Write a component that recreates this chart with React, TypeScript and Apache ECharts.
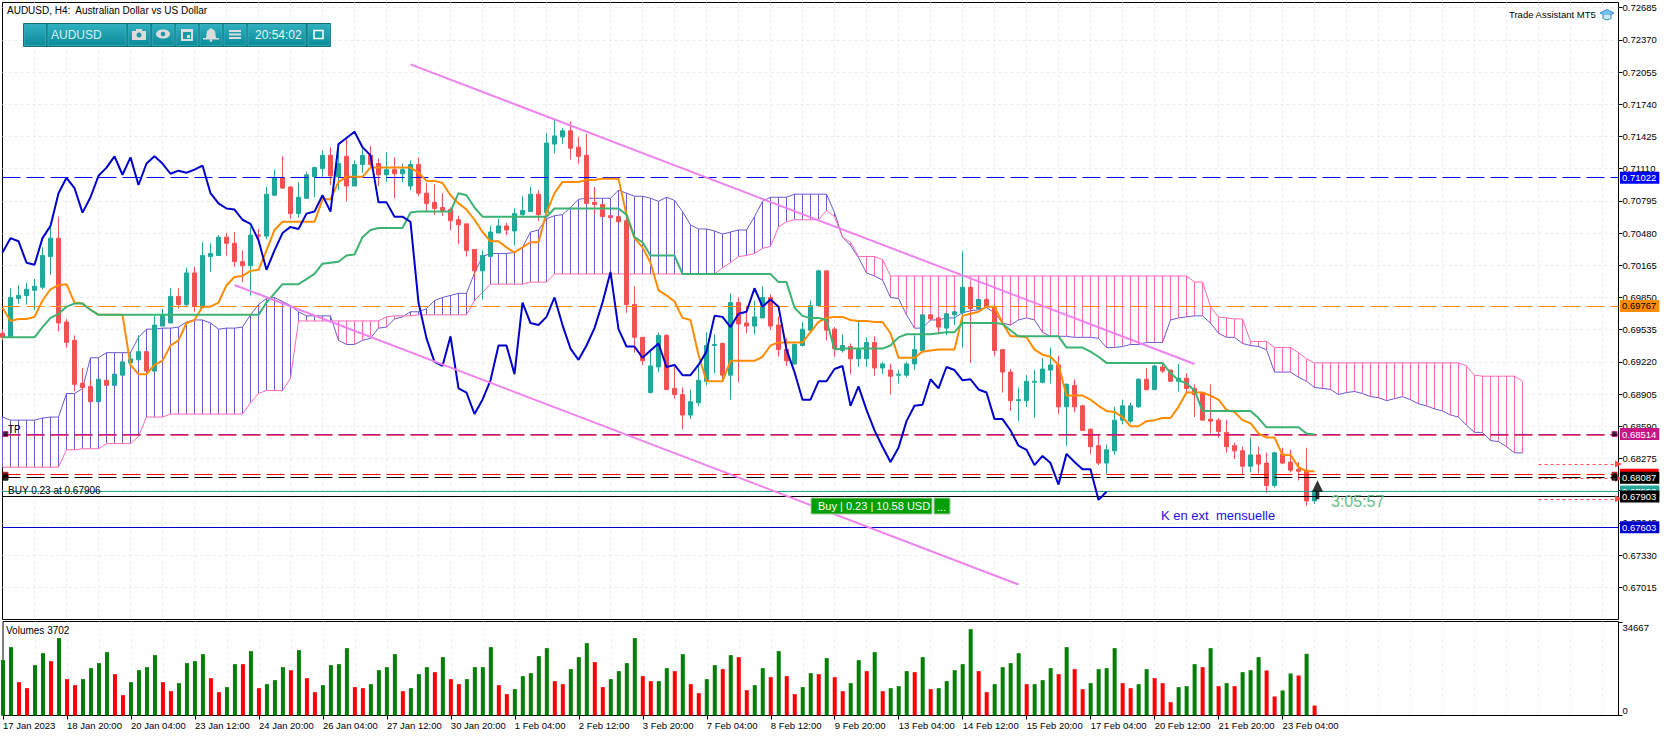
import React, { useEffect, useRef } from "react";
import * as echarts from "echarts";

const FONT = "Liberation Sans";
const TEAL = "#26a69a";
const RED = "#ef5350";

const tickLabels = ["17 Jan 2023","18 Jan 20:00","20 Jan 04:00","23 Jan 12:00","24 Jan 20:00","26 Jan 04:00","27 Jan 12:00","30 Jan 20:00","1 Feb 04:00","2 Feb 12:00","3 Feb 20:00","7 Feb 04:00","8 Feb 12:00","9 Feb 20:00","13 Feb 04:00","14 Feb 12:00","15 Feb 20:00","17 Feb 04:00","20 Feb 12:00","21 Feb 20:00","23 Feb 04:00"];
const priceTicks = [0.72685,0.7237,0.72055,0.7174,0.71425,0.7111,0.70795,0.7048,0.70165,0.6985,0.69535,0.6922,0.68905,0.6859,0.68275,0.6796,0.67645,0.6733,0.67015];
const volumeTicks = [0, 34667];

const openPrices = [
.6950,.6946,.6984,.6987,.6992,.6995,.7025,.7043,.6961,.6943,
.6901,.6898,.6883,.6904,.6899,.6909,.6921,.6924,.6932,.6913,
.6957,.6960,.6986,.6978,.7009,.6975,.7025,.7026,.7044,.7038,
.7020,.7016,.7046,.7045,.7085,.7102,.7093,.7067,.7082,.7103,
.7111,.7124,.7103,.7123,.7094,.7115,.7124,.7116,.7105,.7110,
.7106,.7094,.7115,.7087,.7078,.7073,.7071,.7061,.7057,.7032,
.7011,.7025,.7048,.7055,.7050,.7066,.7069,.7086,.7068,.7135,
.7142,.7148,.7132,.7124,.7078,.7076,.7065,.7064,.7060,.6978,
.6946,.6892,.6917,.6948,.6896,.6890,.6870,.6882,.6903,.6938,
.6940,.6909,.6980,.6960,.6957,.6965,.6985,.6958,.6934,.6920,
.6938,.6953,.6977,.7011,.6954,.6933,.6937,.6925,.6925,.6941,
.6916,.6914,.6909,.6909,.6920,.6933,.6968,.6965,.6955,.6968,
.6970,.6995,.6974,.6983,.6975,.6934,.6912,.6884,.6884,.6902,
.6902,.6914,.6919,.6878,.6899,.6879,.6856,.6840,.6823,.6835,
.6865,.6864,.6878,.6905,.6895,.6917,.6914,.6903,.6906,.6896,
.6892,.6866,.6865,.6853,.6840,.6835,.6820,.6831,.6823,.6801,
.6832,.6824,.6817,.6816,.6786];
const closePrices = [
.6946,.6985,.6987,.6993,.6996,.7026,.7043,.6960,.6941,.6900,
.6897,.6883,.6905,.6899,.6910,.6922,.6925,.6932,.6913,.6958,
.6968,.6986,.6978,.7009,.6976,.7026,.7028,.7044,.7038,.7020,
.7016,.7046,.7045,.7086,.7102,.7092,.7067,.7083,.7105,.7112,
.7124,.7104,.7116,.7094,.7115,.7124,.7115,.7105,.7110,.7106,
.7110,.7115,.7087,.7077,.7072,.7069,.7060,.7056,.7031,.7011,
.7026,.7049,.7055,.7051,.7067,.7070,.7086,.7066,.7136,.7143,
.7148,.7131,.7123,.7077,.7076,.7064,.7063,.7059,.6978,.6946,
.6923,.6918,.6948,.6895,.6890,.6870,.6883,.6904,.6938,.6939,
.6909,.6980,.6959,.6957,.6966,.6985,.6957,.6934,.6923,.6939,
.6954,.6977,.7011,.6953,.6935,.6938,.6925,.6934,.6941,.6916,
.6920,.6908,.6910,.6920,.6934,.6968,.6964,.6956,.6969,.6971,
.6995,.6974,.6983,.6976,.6933,.6912,.6884,.6885,.6903,.6903,
.6915,.6919,.6878,.6900,.6878,.6855,.6839,.6823,.6836,.6865,
.6879,.6879,.6905,.6895,.6918,.6913,.6903,.6906,.6896,.6890,
.6865,.6864,.6854,.6839,.6835,.6820,.6831,.6822,.6801,.6833,
.6823,.6816,.6815,.6786,.6796];
const lowPrices = [
.6943,.6946,.6979,.6978,.6973,.6993,.7007,.6952,.6936,.6893,
.6893,.6883,.6883,.6899,.6899,.6909,.6919,.6924,.6913,.6913,
.6957,.6960,.6974,.6976,.6971,.6975,.7010,.7026,.7026,.7015,
.7000,.6987,.7041,.7042,.7084,.7091,.7062,.7063,.7082,.7083,
.7103,.7095,.7090,.7079,.7094,.7107,.7113,.7094,.7098,.7082,
.7098,.7090,.7084,.7069,.7066,.7065,.7051,.7037,.7025,.7004,
.6983,.7025,.7048,.7046,.7036,.7065,.7069,.7060,.7066,.7126,
.7135,.7120,.7116,.7077,.7066,.7064,.7063,.7059,.6970,.6931,
.6919,.6891,.6912,.6895,.6886,.6856,.6866,.6879,.6899,.6911,
.6904,.6885,.6902,.6950,.6949,.6965,.6953,.6927,.6918,.6919,
.6937,.6952,.6976,.6943,.6927,.6931,.6910,.6917,.6917,.6908,
.6910,.6890,.6901,.6907,.6914,.6932,.6963,.6950,.6948,.6958,
.6936,.6921,.6973,.6975,.6928,.6892,.6874,.6864,.6878,.6867,
.6901,.6901,.6871,.6840,.6873,.6855,.6832,.6821,.6812,.6831,
.6861,.6862,.6877,.6894,.6894,.6911,.6903,.6893,.6892,.6868,
.6865,.6852,.6848,.6833,.6827,.6811,.6814,.6813,.6794,.6799,
.6822,.6814,.6806,.6781,.6783];
const highPrices = [
.6953,.6994,.6997,.6999,.7003,.7034,.7056,.7064,.6964,.6948,
.6916,.6904,.6905,.6904,.6910,.6922,.6930,.6948,.6932,.6967,
.6974,.6994,.6994,.7014,.7015,.7039,.7038,.7046,.7048,.7049,
.7031,.7054,.7052,.7093,.7110,.7123,.7094,.7098,.7108,.7113,
.7129,.7132,.7131,.7141,.7119,.7131,.7133,.7121,.7127,.7122,
.7116,.7119,.7122,.7097,.7096,.7087,.7073,.7065,.7057,.7032,
.7031,.7055,.7062,.7058,.7072,.7084,.7093,.7090,.7146,.7159,
.7151,.7157,.7142,.7145,.7093,.7076,.7065,.7064,.7064,.6996,
.6946,.6932,.6951,.6949,.6917,.6897,.6895,.6918,.6951,.6949,
.6941,.6989,.6985,.6977,.6982,.6996,.6988,.6966,.6945,.6940,
.6961,.6982,.7012,.7011,.6956,.6949,.6940,.6961,.6946,.6947,
.6922,.6920,.6914,.6922,.6948,.6968,.6968,.6965,.6970,.6972,
.7030,.6995,.6984,.6985,.6978,.6934,.6915,.6897,.6909,.6914,
.6926,.6936,.6928,.6901,.6905,.6880,.6857,.6851,.6841,.6878,
.6885,.6882,.6906,.6916,.6919,.6921,.6914,.6920,.6911,.6900,
.6892,.6900,.6867,.6865,.6843,.6839,.6848,.6839,.6833,.6834,
.6838,.6836,.6824,.6838,.6796];

const tenkan = [
.6975,.6962,.6964,.6964,.6966,.6982,.6993,.6997,.6998,.6980,
.6979,.6973,.6968,.6968,.6968,.6968,.6919,.6910,.6910,.6919,
.6923,.6938,.6943,.6960,.6963,.6976,.6976,.6980,.6997,.7005,
.7006,.7011,.7012,.7031,.7051,.7059,.7059,.7059,.7059,.7059,
.7081,.7081,.7098,.7103,.7103,.7103,.7112,.7112,.7112,.7112,
.7112,.7112,.7107,.7099,.7099,.7097,.7085,.7077,.7071,.7061,
.7049,.7040,.7040,.7034,.7029,.7034,.7039,.7039,.7068,.7087,
.7098,.7098,.7098,.7100,.7100,.7101,.7101,.7101,.7066,.7043,
.7034,.7019,.6992,.6987,.6981,.6965,.6963,.6929,.6903,.6903,
.6903,.6923,.6923,.6923,.6923,.6927,.6938,.6941,.6941,.6941,
.6941,.6951,.6961,.6965,.6966,.6966,.6963,.6962,.6962,.6961,
.6961,.6950,.6926,.6926,.6926,.6932,.6933,.6934,.6934,.6934,
.6967,.6969,.6971,.6976,.6976,.6960,.6947,.6947,.6946,.6934,
.6929,.6927,.6919,.6889,.6889,.6889,.6885,.6879,.6874,.6873,
.6868,.6859,.6859,.6864,.6865,.6867,.6867,.6878,.6892,.6892,
.6892,.6889,.6885,.6875,.6873,.6865,.6862,.6852,.6848,.6848,
.6831,.6831,.6819,.6815,.6815];
const kijun = [
.6946,.6946,.6946,.6946,.6946,.6956,.6965,.6969,.6976,.6979,
.6979,.6973,.6968,.6968,.6968,.6968,.6968,.6968,.6968,.6968,
.6968,.6968,.6968,.6968,.6968,.6968,.6968,.6968,.6968,.6968,
.6968,.6968,.6968,.6980,.6989,.6998,.6998,.6998,.7003,.7008,
.7018,.7019,.7020,.7026,.7027,.7044,.7051,.7053,.7053,.7053,
.7053,.7068,.7069,.7069,.7069,.7069,.7069,.7087,.7085,.7073,
.7064,.7064,.7064,.7064,.7064,.7064,.7064,.7064,.7064,.7072,
.7072,.7072,.7072,.7072,.7072,.7072,.7072,.7072,.7066,.7044,
.7039,.7026,.7026,.7026,.7026,.7008,.7008,.7008,.7008,.7008,
.7008,.7008,.7008,.7008,.7008,.7008,.7008,.7000,.7000,.6975,
.6967,.6965,.6965,.6963,.6934,.6935,.6935,.6935,.6935,.6935,
.6935,.6938,.6946,.6949,.6949,.6949,.6949,.6950,.6951,.6951,
.6960,.6960,.6960,.6960,.6960,.6959,.6953,.6947,.6947,.6947,
.6947,.6947,.6947,.6936,.6936,.6936,.6932,.6927,.6921,.6921,
.6921,.6921,.6921,.6921,.6921,.6921,.6911,.6904,.6901,.6894,
.6874,.6874,.6874,.6874,.6874,.6874,.6874,.6867,.6858,.6858,
.6858,.6858,.6858,.6852,.6851];
const chikou = [
.7029,.7043,.7040,.7019,.7017,.7043,.7055,.7087,.7102,.7092,
.7068,.7083,.7104,.7112,.7123,.7105,.7122,.7095,.7116,.7123,
.7116,.7106,.7109,.7107,.7110,.7114,.7087,.7077,.7072,.7071,
.7061,.7057,.7041,.7012,.7031,.7048,.7054,.7052,.7067,.7069,
.7085,.7069,.7135,.7141,.7147,.7132,.7124,.7078,.7078,.7064,
.7064,.7059,.6980,.6945,.6922,.6918,.6947,.6896,.6892,.6871,
.6885,.6904,.6938,.6938,.6910,.6980,.6960,.6958,.6966,.6985,
.6958,.6935,.6924,.6938,.6955,.6980,.7010,.6954,.6937,.6937,
.6926,.6933,.6940,.6917,.6919,.6909,.6909,.6919,.6932,.6967,
.6966,.6956,.6969,.6971,.6994,.6976,.6983,.6976,.6934,.6912,
.6885,.6885,.6903,.6903,.6915,.6918,.6879,.6898,.6875,.6855,
.6839,.6824,.6838,.6864,.6879,.6880,.6905,.6896,.6917,.6914,
.6904,.6905,.6895,.6892,.6866,.6866,.6855,.6840,.6836,.6821,
.6830,.6823,.6802,.6832,.6824,.6817,.6817,.6787,.6795];
const senkouA = [
.6868,.6865,.6865,.6865,.6865,.6867,.6868,.6868,.6891,.6891,
.6896,.6926,.6926,.6931,.6931,.6931,.6931,.6946,.6954,.6954,
.6955,.6955,.6956,.6961,.6963,.6963,.6960,.6954,.6955,.6955,
.6956,.6968,.6978,.6984,.6985,.6981,.6977,.6971,.6967,.6967,
.6967,.6967,.6943,.6939,.6939,.6943,.6945,.6955,.6956,.6964,
.6966,.6971,.6971,.6974,.6982,.6985,.6987,.6989,.6989,.7009,
.7025,.7028,.7028,.7028,.7029,.7034,.7049,.7051,.7062,.7065,
.7066,.7073,.7081,.7082,.7082,.7082,.7082,.7090,.7087,.7084,
.7084,.7082,.7079,.7083,.7080,.7069,.7056,.7052,.7052,.7050,
.7047,.7049,.7051,.7051,.7064,.7079,.7083,.7083,.7083,.7086,
.7086,.7086,.7086,.7086,.7068,.7044,.7036,.7024,.7009,.7006,
.7002,.6985,.6984,.6968,.6955,.6955,.6963,.6963,.6965,.6965,
.6970,.6972,.6973,.6975,.6970,.6960,.6958,.6963,.6965,.6963,
.6951,.6947,.6947,.6947,.6946,.6946,.6946,.6945,.6936,.6936,
.6937,.6939,.6939,.6941,.6941,.6941,.6963,.6965,.6966,.6967,
.6967,.6960,.6950,.6946,.6946,.6940,.6938,.6937,.6934,.6912,
.6912,.6912,.6907,.6903,.6897,.6896,.6895,.6890,.6892,.6893,
.6891,.6888,.6887,.6884,.6886,.6888,.6885,.6881,.6879,.6876,
.6874,.6870,.6868,.6860,.6853,.6853,.6845,.6844,.6839,.6833,
.6833];
const senkouB = [
.6819,.6819,.6819,.6819,.6819,.6819,.6819,.6819,.6836,.6836,
.6837,.6837,.6837,.6842,.6842,.6842,.6842,.6849,.6868,.6868,
.6868,.6871,.6871,.6871,.6871,.6871,.6871,.6871,.6871,.6871,
.6871,.6882,.6891,.6894,.6894,.6894,.6906,.6962,.6962,.6962,
.6962,.6962,.6962,.6962,.6962,.6962,.6962,.6962,.6966,.6967,
.6967,.6967,.6968,.6968,.6968,.6968,.6968,.6968,.6968,.6982,
.6990,.6998,.6998,.6998,.6998,.6998,.7000,.7000,.7000,.7008,
.7008,.7008,.7008,.7008,.7008,.7008,.7008,.7008,.7008,.7008,
.7008,.7008,.7008,.7008,.7008,.7008,.7008,.7008,.7008,.7008,
.7014,.7019,.7025,.7026,.7028,.7033,.7035,.7054,.7059,.7061,
.7061,.7061,.7061,.7070,.7064,.7044,.7039,.7025,.7025,.7025,
.7022,.7006,.7006,.7006,.7006,.7006,.7006,.7006,.7006,.7006,
.7006,.7006,.7006,.7006,.7006,.7006,.7006,.7006,.7006,.7006,
.7006,.7006,.7006,.7006,.7006,.7006,.7006,.7006,.7006,.7006,
.7006,.7006,.7006,.7006,.7006,.7006,.7006,.7006,.7006,.7000,
.7000,.6976,.6966,.6965,.6964,.6964,.6942,.6942,.6942,.6936,
.6936,.6936,.6931,.6925,.6921,.6921,.6921,.6921,.6921,.6921,
.6921,.6921,.6921,.6921,.6921,.6921,.6921,.6921,.6921,.6921,
.6921,.6921,.6921,.6918,.6909,.6908,.6908,.6908,.6908,.6908,
.6903];
const volumes = [
20630,25480,12430,10190,18770,23240,20260,28840,13550,11310,
13550,17650,19520,23620,15410,7580,12430,16900,18020,22500,
12430,9070,12060,19520,20260,22870,13920,8700,10570,19140,
19140,23990,10190,11680,13180,18020,16900,24360,13920,8700,
11310,18770,19140,25110,10570,10190,11680,16900,18020,22870,
9070,10190,15410,18020,16160,21750,13550,11680,13550,18020,
18020,25480,11310,7960,9820,14670,15790,22130,25110,12800,
11680,17280,21750,26970,19890,10570,13550,16530,19520,28840,
14670,12800,12800,17650,16530,22870,11680,8330,13550,18770,
17280,22500,21750,9450,11310,17650,14290,23990,14670,7960,
10570,15790,15410,21380,14290,9070,12060,20630,16530,23620,
9070,10190,10940,16530,16160,21750,9820,10190,12800,16900,
19140,32190,16530,8700,11680,18020,19520,23240,11680,11680,
13180,17650,15410,25480,17280,9820,12060,17280,17650,25110,
12060,10190,11680,17280,13920,12060,4970,10570,10940,19140,
18020,25110,10940,12060,10940,16160,16900,21750,16780,7090,
9320,15660,14920,23000,3702];
const redVolumeBars = [2,3,6,8,9,14,15,20,21,26,27,30,32,36,38,39,44,45,50,54,56,57,62,63,69,70,74,75,80,81,84,86,87,90,92,93,96,98,99,102,104,105,108,110,114,116,122,123,128,132,134,135,140,141,144,145,146,150,152,154,158,159,162,164];

const upperTrend = [[51, 0.7213], [149, 0.69199]];
const lowerTrend = [[29, 0.69972], [127, 0.67042]];
const priceLevels = [
  { value: 0.71022, color: "#0000ff", tag: "#0000ff", text: "#fff", dash: true },
  { value: 0.69767, color: "#ff8c00", tag: "#ff8c00", text: "#000", dash: true },
  { value: 0.68504, color: "#f5203f", tag: "#c71585", text: "#fff", dash: true, hide: true, width: 1.5 },
  { value: 0.68514, color: "#b0208a", tag: "#c71585", text: "#fff", dash: true },
  { value: 0.68116, color: "#ff0000", tag: "#ff0000", text: "#fff", dash: true },
  { value: 0.68087, color: "#000000", tag: "#000000", text: "#fff", dash: true },
  { value: 0.67953, color: TEAL, tag: TEAL, text: "#fff", dash: false },
  { value: 0.67903, color: "#000000", tag: "#000000", text: "#fff", dash: false },
  { value: 0.67603, color: "#0000cd", tag: "#0000cd", text: "#fff", dash: false },
];
const orderArrowPrices = [0.6822, 0.6808, 0.6788];
const edgeMarkers = [[0, 0.68514], [201, 0.68514], [0, 0.68116], [201, 0.68116], [0, 0.68087], [201, 0.68087]];
const markerBorders = ["#c71585", "#c71585", "#ff0000", "#ff0000", "#000", "#000"];

const SLOTS = 203;
const categories = Array.from({ length: SLOTS }, (_, i) => String(i));

const toolbarSlots = [[24.3, 21.3], [48, 78], [128.3, 21.7], [152.3, 21.7], [176, 22], [200, 22], [224, 22], [248, 57.3], [308, 22]];

function txt(x: number, y: number, text: string, size: number, fill: string, extra: any = {}) {
  return {
    type: "text", x, y, silent: true, z: 50,
    style: { text, fill, font: `${size}px "${FONT}"`, textVerticalAlign: "middle", ...extra },
  };
}

function buildGraphic() {
  const icon = "#dcdcdc";
  const btnFill = {
    type: "linear", x: 0, y: 0, x2: 0, y2: 1,
    colorStops: [{ offset: 0, color: "#2fb0c0" }, { offset: 1, color: "#0c8b99" }],
  };
  const els: any[] = [
    { type: "rect", silent: true, z: 40, shape: { x: 23.5, y: 23.5, width: 307, height: 23 }, style: { fill: "#0b7f8c", stroke: "#0a6f7b", lineWidth: 1 } },
  ];
  toolbarSlots.forEach(([x, w]) => {
    els.push({ type: "rect", silent: true, z: 41, shape: { x, y: 24.5, width: w, height: 21 }, style: { fill: btnFill, stroke: "#4fb9c5", lineWidth: 0.6 } });
  });
  const s = (t: string, shape: any, style: any = { fill: icon }) => ({ type: t, silent: true, z: 45, shape, style });
  els.push(
    s("rect", { x: 132, y: 31, width: 14, height: 9 }),
    s("rect", { x: 136, y: 29, width: 6, height: 2 }),
    s("circle", { cx: 139, cy: 35, r: 2.5 }, { fill: "#1a98a8" }),
    s("ellipse", { cx: 163, cy: 34, rx: 7, ry: 4.5 }),
    s("circle", { cx: 163, cy: 34, r: 2.3 }, { fill: "#1a98a8" }),
    s("rect", { x: 181, y: 29, width: 12, height: 12 }),
    s("rect", { x: 183, y: 32, width: 8, height: 7 }, { fill: "#1a98a8" }),
    s("rect", { x: 187, y: 35, width: 3, height: 3 }),
    s("polygon", { points: [[211, 28], [215, 31], [216, 38], [206, 38], [207, 31]] }),
    s("rect", { x: 203, y: 38, width: 16, height: 1.5 }),
    s("circle", { cx: 211, cy: 40.5, r: 1.3 }),
    s("rect", { x: 229, y: 30, width: 12, height: 2 }),
    s("rect", { x: 229, y: 33.5, width: 12, height: 2 }),
    s("rect", { x: 229, y: 37, width: 12, height: 2 }),
    s("rect", { x: 314, y: 30.5, width: 9, height: 8 }, { fill: "none", stroke: "#fff", lineWidth: 1.5 }),
    s("polygon", { points: [[1600, 13], [1607, 9.5], [1614, 13], [1607, 16.5]] }, { fill: "#7cc0ec", stroke: "#2f8fd0", lineWidth: 1 }),
    s("polyline", { points: [[1603, 15], [1603, 18.5], [1607, 20], [1611, 18.5], [1611, 15]] }, { fill: "#cfe8f8", stroke: "#2f8fd0", lineWidth: 1 }),
    s("rect", { x: 811, y: 498, width: 121, height: 16 }, { fill: "#00a000", stroke: "#a8c8a8", lineWidth: 1 }),
    s("rect", { x: 934, y: 498, width: 16, height: 16 }, { fill: "#00a000", stroke: "#a8c8a8", lineWidth: 1 }),
  );
  els.push(
    txt(7, 10, "AUDUSD, H4:  Australian Dollar vs US Dollar", 10, "#000"),
    txt(1509, 14, "Trade Assistant MT5", 9.5, "#000"),
    txt(6, 630, "Volumes 3702", 10, "#000"),
    txt(8, 490, "BUY 0.23 at 0.67906", 10, "#000"),
    txt(8, 429, "TP", 10, "#000"),
    txt(51, 34.5, "AUDUSD", 12, "#d8f0f2"),
    txt(255, 34.5, "20:54:02", 12, "#e8f6f8"),
    txt(818, 506, "Buy | 0.23 | 10.58 USD", 11, "#fff"),
    txt(937, 507, "...", 11, "#fff"),
    txt(1161, 515, "K en ext  mensuelle", 13, "#2a10e0"),
    txt(1331, 501, "3:05:57", 16, "#66c08a"),
  );
  return els;
}

export default function App() {
  const ref = useRef<HTMLDivElement>(null);
  useEffect(() => {
    document.body.style.margin = "0";
    const chart = echarts.init(ref.current!, null, { renderer: "svg" });
    const textStyle = { fontFamily: FONT, fontSize: 9.5, color: "#000" };
    const vGrid = { show: true, interval: (i: number) => i % 4 === 0 && i > 0, lineStyle: { color: "#ececec", type: [3, 3], width: 1 } };
    const ichimokuLine = (name: string, data: number[], color: string, width: number, z: number) => ({
      name, type: "line", data, symbol: "none", z, silent: true,
      lineStyle: { color, width }, xAxisIndex: 0, yAxisIndex: 0,
    });
    chart.setOption({
      animation: false,
      backgroundColor: "#fff",
      textStyle: { fontFamily: FONT },
      grid: [
        { left: 2.5, top: 2.5, width: 1616, height: 617, show: true, borderColor: "#000", borderWidth: 1, backgroundColor: "transparent" },
        { left: 2.5, top: 621.5, width: 1616, height: 94, show: true, borderColor: "#000", borderWidth: 1, backgroundColor: "transparent" },
      ],
      xAxis: [
        {
          type: "category", gridIndex: 0, data: categories, boundaryGap: false,
          axisLine: { show: false }, axisTick: { show: false }, axisLabel: { show: false },
          splitLine: vGrid,
        },
        {
          type: "category", gridIndex: 1, data: categories, boundaryGap: false,
          axisLine: { show: true, lineStyle: { color: "#000" } },
          axisTick: { show: true, length: 4, interval: (i: number) => i % 8 === 0 && i <= 160, lineStyle: { color: "#000" } },
          axisLabel: {
            ...textStyle, margin: 5, align: "left", hideOverlap: false,
            interval: (i: number) => i % 8 === 0 && i <= 160,
            formatter: (_: string, i: number) => tickLabels[i / 8] ?? "",
          },
          splitLine: vGrid,
        },
      ],
      yAxis: [
        {
          type: "value", gridIndex: 0, position: "right", min: 0.667, max: 0.72735, scale: true,
          axisLine: { show: false },
          axisTick: { show: true, length: 4, customValues: priceTicks, lineStyle: { color: "#000" } },
          axisLabel: { ...textStyle, margin: 4, customValues: priceTicks, formatter: (v: number) => v.toFixed(5) },
          splitLine: { show: true, lineStyle: { color: "#ececec", type: [3, 3], width: 1 } },
        },
        {
          type: "value", gridIndex: 1, position: "right", min: 0, max: 35040,
          axisLine: { show: false },
          axisTick: { show: true, length: 4, customValues: volumeTicks, lineStyle: { color: "#000" } },
          axisLabel: {
            ...textStyle, margin: 4, customValues: volumeTicks,
            verticalAlignMinLabel: "bottom", verticalAlignMaxLabel: "top",
            formatter: (v: number) => String(v),
          },
          splitLine: { show: false },
        },
      ],
      graphic: buildGraphic(),
      series: [
        {
          name: "Kumo", type: "custom", xAxisIndex: 0, yAxisIndex: 0, z: 1, silent: true, clip: true,
          data: senkouA.map((a, i) => [i, a, senkouB[i]]),
          encode: { x: 0, y: [1, 2] },
          renderItem: (_: any, api: any) => {
            const i = api.value(0), a = api.value(1), b = api.value(2);
            const p1 = api.coord([i, a]), p2 = api.coord([i, b]);
            return {
              type: "line",
              shape: { x1: p1[0], y1: p1[1], x2: p2[0], y2: p2[1] },
              style: { stroke: a >= b ? "#6a5acd" : "#ff69b4", lineWidth: 1 },
            };
          },
        },
        ichimokuLine("Senkou A", senkouA, "#6a5acd", 1, 2),
        ichimokuLine("Senkou B", senkouB, "#ff69b4", 1, 2),
        {
          name: "AUDUSD", type: "candlestick", xAxisIndex: 0, yAxisIndex: 0, z: 3, silent: true, barWidth: 5,
          data: openPrices.map((o, i) => [o, closePrices[i], lowPrices[i], highPrices[i]]),
          itemStyle: { color: TEAL, color0: RED, borderColor: TEAL, borderColor0: RED, borderWidth: 1 },
        },
        {
          name: "Levels", type: "line", xAxisIndex: 0, yAxisIndex: 0, z: 4, data: [], silent: true,
          markLine: {
            silent: true, symbol: "none", animation: false, precision: 5,
            data: priceLevels.map((l: any) => ({
              yAxis: l.value,
              lineStyle: { color: l.color, width: l.width ?? 1, type: l.dash ? [18, 6] : "solid" },
              label: l.hide ? { show: false } : {
                show: true, position: "end", distance: 1.5,
                formatter: l.value.toFixed(5), color: l.text, backgroundColor: l.tag,
                fontFamily: FONT, fontSize: 9.5, padding: [1, 3, 1, 2], lineHeight: 10,
              },
            })),
          },
        },
        ichimokuLine("Tenkan", tenkan, "#ff8c00", 2, 5),
        ichimokuLine("Kijun", kijun, "#3cb371", 2, 6),
        ichimokuLine("Chikou", chikou, "#0000cd", 2, 7),
        {
          name: "Order arrows", type: "line", xAxisIndex: 0, yAxisIndex: 0, z: 8, data: [], silent: true,
          markLine: {
            silent: true, symbol: ["none", "triangle"], symbolSize: 7, animation: false, precision: 5,
            label: { show: false },
            lineStyle: { color: "#ff5050", width: 1, type: [3, 3] },
            data: orderArrowPrices.map((p) => [{ coord: ["192", p] }, { coord: ["202", p] }]),
          },
        },
        { name: "Upper channel", type: "line", data: upperTrend, symbol: "none", z: 9, silent: true, lineStyle: { color: "#ee82ee", width: 2 } },
        { name: "Lower channel", type: "line", data: lowerTrend, symbol: "none", z: 9, silent: true, lineStyle: { color: "#ee82ee", width: 2 } },
        {
          name: "Edge markers", type: "scatter", z: 10, silent: true, clip: false, symbol: "rect", symbolSize: 5,
          data: edgeMarkers.map((d, i) => ({
            value: d,
            symbolOffset: [d[0] === 0 ? 3 : 4, 0],
            itemStyle: { color: "#000", borderColor: markerBorders[i], borderWidth: 1 },
          })),
        },
        {
          name: "Buy arrow", type: "scatter", z: 11, silent: true,
          symbol: "path://M6 0L12 11H8V18H4V11H0Z", symbolSize: [11, 19], symbolOffset: [-5, 0],
          data: [[165, 0.6797]],
          itemStyle: { color: "#000" },
        },
        {
          name: "Volumes", type: "bar", xAxisIndex: 1, yAxisIndex: 1, barWidth: 4, silent: true, z: 3,
          data: volumes.map((v, i) => ({ value: v, itemStyle: { color: redVolumeBars.includes(i) ? "#ff0000" : "#008000" } })),
        },
      ],
    });
    return () => chart.dispose();
  }, []);
  return <div ref={ref} style={{ width: 1670, height: 736 }} />;
}
